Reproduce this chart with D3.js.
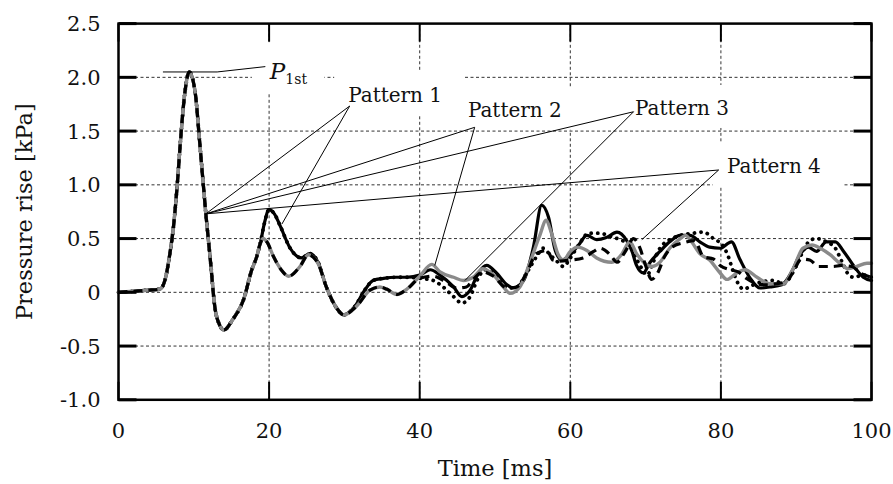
<!DOCTYPE html>
<html>
<head>
<meta charset="utf-8">
<script src="https://cdn.jsdelivr.net/npm/d3@7"></script>
<style>
  html, body { margin: 0; padding: 0; background: #fff; }
  svg { display: block; }
  text { font-family: "DejaVu Serif", serif; fill: #111; }
</style>
</head>
<body>
<svg id="chart" width="893" height="484"></svg>
<script>
// ---- Axis ticks ----
const timeTicks = [0, 20, 40, 60, 80, 100];
const pressureTicks = [-1.0, -0.5, 0, 0.5, 1.0, 1.5, 2.0, 2.5];
const pressureTickLabels = ["-1.0", "-0.5", "0", "0.5", "1.0", "1.5", "2.0", "2.5"];

// ---- Common first pressure pulse (all patterns), time [ms] / pressure [kPa] ----
const riseT = [0, 2, 4, 5.5, 6.2, 6.8, 7.3, 7.8, 8.2, 8.8, 9.4, 10.2, 10.8, 11.6, 12.2, 12.8, 13.4, 14.0, 15.2, 16.6, 17.7, 18.35];
const riseP = [0.00, 0.01, 0.02, 0.03, 0.12, 0.35, 0.61, 1.00, 1.38, 1.85, 2.05, 1.85, 1.38, 0.73, 0.30, -0.14, -0.30, -0.35, -0.25, -0.07, 0.21, 0.33];

// ---- Upper branch, 19-38 ms (patterns 1 and 2) ----
const upperT = [18.9, 19.4, 20.0, 20.7, 21.4, 22.8, 24.3, 25.4, 26.5, 27.6, 29.0, 29.9, 31.4, 32.7, 33.8, 35.2, 36.8, 38.3];
const upperP = [0.48, 0.65, 0.77, 0.73, 0.63, 0.41, 0.32, 0.36, 0.28, 0.05, -0.15, -0.21, -0.13, 0.02, 0.11, 0.13, 0.14, 0.14];

// ---- Lower branch, 19-38 ms (patterns 3 and 4) ----
const lowerT = [18.8, 19.2, 19.7, 20.6, 21.6, 22.6, 24.1, 25.2, 26.5, 27.6, 29.0, 29.9, 31.6, 33.4, 34.7, 35.6, 37.0, 38.3];
const lowerP = [0.45, 0.50, 0.47, 0.33, 0.21, 0.15, 0.24, 0.35, 0.27, 0.05, -0.15, -0.21, -0.13, 0.02, 0.05, 0.03, -0.02, 0.03];

// ---- Later oscillations, 40-100 ms ----
const solidT = [40.0, 41.4, 42.7, 44.5, 45.6, 46.7, 47.8, 48.9, 50.2, 51.6, 52.4, 53.8, 55.1, 56.2, 57.1, 58.0, 58.9, 59.7, 61.1, 62.2, 63.5, 64.8, 66.2, 67.5, 68.2, 68.8, 69.7, 70.6, 71.9, 73.2, 74.6, 75.9, 77.2, 78.5, 79.9, 81.4, 82.5, 83.9, 85.2, 86.5, 88.1, 89.4, 90.5, 91.6, 92.7, 94.0, 95.2, 96.3, 97.6, 98.9, 100];
const solidP = [0.16, 0.21, 0.16, 0.05, -0.04, 0.02, 0.18, 0.25, 0.18, 0.07, 0.04, 0.11, 0.42, 0.81, 0.70, 0.39, 0.30, 0.33, 0.44, 0.53, 0.49, 0.51, 0.56, 0.48, 0.38, 0.25, 0.18, 0.28, 0.38, 0.47, 0.53, 0.53, 0.47, 0.42, 0.41, 0.47, 0.31, 0.13, 0.04, 0.05, 0.07, 0.19, 0.35, 0.42, 0.38, 0.47, 0.47, 0.38, 0.25, 0.14, 0.11];

const dottedT = [40.0, 41.8, 43.1, 44.5, 45.6, 46.7, 47.6, 48.7, 50.2, 51.8, 52.9, 54.2, 55.5, 56.4, 57.3, 58.2, 59.1, 60.0, 61.3, 62.4, 63.9, 65.3, 66.6, 67.9, 68.8, 69.5, 70.2, 71.0, 71.9, 73.2, 74.6, 76.3, 77.7, 79.0, 80.3, 81.0, 81.6, 82.3, 83.0, 84.3, 85.6, 87.0, 88.3, 89.6, 90.9, 91.8, 92.7, 94.0, 95.2, 96.1, 97.0, 97.6, 98.9, 100];
const dottedP = [0.13, 0.11, 0.05, -0.04, -0.10, -0.04, 0.11, 0.21, 0.15, 0.04, 0.05, 0.18, 0.33, 0.41, 0.35, 0.29, 0.24, 0.32, 0.46, 0.55, 0.55, 0.52, 0.49, 0.44, 0.31, 0.22, 0.16, 0.28, 0.41, 0.49, 0.53, 0.55, 0.56, 0.50, 0.43, 0.33, 0.20, 0.08, 0.03, 0.07, 0.10, 0.11, 0.08, 0.19, 0.38, 0.48, 0.50, 0.47, 0.41, 0.28, 0.16, 0.14, 0.16, 0.14];

const grayT = [40.0, 41.6, 42.7, 44.5, 45.8, 47.1, 48.4, 49.8, 51.1, 52.0, 53.3, 54.6, 55.9, 56.8, 57.5, 58.4, 59.1, 60.0, 60.9, 62.2, 63.5, 65.5, 66.8, 67.9, 68.8, 69.9, 70.8, 71.9, 73.2, 74.6, 75.3, 76.1, 77.2, 78.5, 79.9, 80.8, 82.1, 83.2, 84.8, 86.5, 88.3, 89.6, 90.9, 92.1, 93.2, 94.5, 95.8, 96.9, 98.0, 99.4, 100];
const grayP = [0.15, 0.26, 0.19, 0.14, 0.11, 0.14, 0.22, 0.16, 0.05, -0.01, 0.05, 0.27, 0.52, 0.67, 0.55, 0.35, 0.30, 0.38, 0.42, 0.39, 0.32, 0.28, 0.35, 0.47, 0.36, 0.27, 0.24, 0.28, 0.41, 0.50, 0.53, 0.47, 0.36, 0.30, 0.18, 0.12, 0.18, 0.21, 0.14, 0.08, 0.08, 0.22, 0.41, 0.44, 0.41, 0.35, 0.27, 0.22, 0.24, 0.27, 0.27];

const dashedT = [40.0, 41.8, 43.6, 44.9, 46.2, 47.1, 48.4, 49.8, 51.6, 52.9, 54.2, 55.5, 56.9, 57.7, 58.6, 60.0, 61.7, 63.1, 63.9, 65.3, 66.2, 67.3, 68.4, 69.2, 70.0, 70.8, 71.6, 72.5, 73.5, 75.0, 76.5, 77.7, 79.0, 79.9, 81.2, 82.3, 83.4, 84.8, 86.1, 87.4, 88.7, 89.6, 90.7, 91.8, 93.0, 94.9, 96.0, 97.4, 98.5, 100];
const dashedP = [0.13, 0.15, 0.09, 0.04, 0.05, 0.12, 0.19, 0.15, 0.04, 0.05, 0.18, 0.36, 0.39, 0.30, 0.29, 0.30, 0.32, 0.38, 0.41, 0.35, 0.28, 0.38, 0.50, 0.42, 0.25, 0.12, 0.18, 0.33, 0.42, 0.46, 0.48, 0.33, 0.31, 0.25, 0.21, 0.19, 0.13, 0.08, 0.07, 0.08, 0.10, 0.19, 0.31, 0.30, 0.24, 0.24, 0.25, 0.24, 0.18, 0.14];

// ---- Annotations (data coordinates) ----
const patternNames = ["Pattern 1", "Pattern 2", "Pattern 3", "Pattern 4"];
const patternTextAt = [[30.5, 1.773], [46.4, 1.633], [68.6, 1.65], [80.8, 1.11]];
const patternApex = [[30.7, 1.733], [47.3, 1.535], [68.4, 1.68], [79.7, 1.138]];
const patternTarget = [[21.7, 0.635], [42.0, 0.25], [46.0, 0.11], [69.5, 0.49]];
const commonPoint = [11.6, 0.73];
const peakValue = 2.05;
const peakMarkSpan = [5.9, 13.1];
const peakLabelLead = [19.5, 2.10];
const peakLabelAt = [20.1, 1.98];

// ---- Scales ----
const svg = d3.select("#chart");
const x = d3.scaleLinear().domain([0, 100]).range([118.5, 871.5]);
const y = d3.scaleLinear().domain([-1, 2.5]).range([399.8, 23.6]);
const [x0, x1] = x.range();
const [y0, y1] = y.range();

// ---- Grid ----
const grid = svg.append("g").attr("stroke", "#333").attr("stroke-width", 1)
  .attr("stroke-dasharray", "3,2.5").attr("fill", "none");
grid.selectAll("line.h").data(pressureTicks.filter(v => v > -1 && v < 2.5)).join("line")
  .attr("x1", x0).attr("x2", x1).attr("y1", d => y(d)).attr("y2", d => y(d));
grid.selectAll("line.v").data(timeTicks.filter(t => t > 0 && t < 100)).join("line")
  .attr("y1", y0).attr("y2", y1).attr("x1", d => x(d)).attr("x2", d => x(d));

// ---- Series ----
const zip = (t, p) => t.map((v, i) => [v, p[i]]);
const rise = zip(riseT, riseP);
const upper = zip(upperT, upperP);
const lower = zip(lowerT, lowerP);
const series = [
  { pts: rise.concat(upper, zip(solidT, solidP)), stroke: "#000", width: 3.2, dash: null, cap: "round" },
  { pts: rise.concat(upper, zip(dottedT, dottedP)), stroke: "#000", width: 3.8, dash: "0.1,6.5", cap: "round" },
  { pts: rise.concat(lower, zip(grayT, grayP)), stroke: "#8a8a8a", width: 3.4, dash: null, cap: "round" },
  { pts: rise.concat(lower, zip(dashedT, dashedP)), stroke: "#000", width: 3.2, dash: "9,6", cap: "butt" }
];
const line = d3.line().x(d => x(d[0])).y(d => y(d[1])).curve(d3.curveMonotoneX);
svg.append("g").selectAll("path").data(series).join("path")
  .attr("d", d => line(d.pts))
  .attr("fill", "none")
  .attr("stroke", d => d.stroke)
  .attr("stroke-width", d => d.width)
  .attr("stroke-dasharray", d => d.dash)
  .attr("stroke-linecap", d => d.cap)
  .attr("stroke-linejoin", "round");

// ---- Frame and ticks ----
const frame = svg.append("g").attr("stroke", "#000");
frame.append("rect").attr("x", x0).attr("y", y1).attr("width", x1 - x0).attr("height", y0 - y1)
  .attr("fill", "none").attr("stroke-width", 2.5);
const tickLen = 18;
frame.selectAll("line.yl").data(pressureTicks).join("line")
  .attr("x1", x0).attr("x2", x0 + tickLen).attr("y1", d => y(d)).attr("y2", d => y(d)).attr("stroke-width", 3);
frame.selectAll("line.yr").data(pressureTicks).join("line")
  .attr("x1", x1 - tickLen).attr("x2", x1).attr("y1", d => y(d)).attr("y2", d => y(d)).attr("stroke-width", 3);
frame.selectAll("line.xb").data(timeTicks).join("line")
  .attr("x1", d => x(d)).attr("x2", d => x(d)).attr("y1", y0).attr("y2", y0 - tickLen).attr("stroke-width", 2);
frame.selectAll("line.xt").data(timeTicks).join("line")
  .attr("x1", d => x(d)).attr("x2", d => x(d)).attr("y1", y1).attr("y2", y1 + tickLen).attr("stroke-width", 2);

// ---- Tick labels and axis titles ----
svg.append("g").selectAll("text").data(pressureTicks).join("text")
  .attr("x", x0 - 18).attr("y", d => y(d)).attr("dy", "0.36em")
  .attr("text-anchor", "end").attr("font-size", 21)
  .text((d, i) => pressureTickLabels[i]);
svg.append("g").selectAll("text").data(timeTicks).join("text")
  .attr("x", d => x(d)).attr("y", 438).attr("text-anchor", "middle").attr("font-size", 21)
  .text(d => d);
svg.append("text").attr("x", (x0 + x1) / 2).attr("y", 476).attr("text-anchor", "middle")
  .attr("font-size", 22.5).text("Time [ms]");
svg.append("text").attr("transform", `translate(32,${(y0 + y1) / 2}) rotate(-90)`)
  .attr("text-anchor", "middle").attr("font-size", 22.5).text("Pressure rise [kPa]");

// ---- Annotation labels with white backing ----
const ann = svg.append("g");
const boxes = ann.append("g");
const leaders = ann.append("g").attr("stroke", "#000").attr("stroke-width", 1).attr("fill", "none");
const labels = ann.append("g");

// P_1st label
const pLabel = labels.append("text").attr("x", x(peakLabelAt[0])).attr("y", y(peakLabelAt[1])).attr("font-size", 23);
pLabel.append("tspan").attr("font-style", "italic").text("P");
pLabel.append("tspan").attr("font-size", 14).attr("dy", 5).text("1st");
const pb = pLabel.node().getBBox();
boxes.append("rect").attr("x", pb.x - 17).attr("y", y(peakLabelAt[1]) - 37)
  .attr("width", pb.width + 34).attr("height", 50).attr("fill", "#fff");
leaders.append("polyline").attr("points", [
  [x(peakMarkSpan[0]), y(peakValue)], [x(peakMarkSpan[1]), y(peakValue)],
  [x(peakLabelLead[0]), y(peakLabelLead[1])]
].map(p => p.join(",")).join(" "));

// Pattern labels
patternNames.forEach((name, i) => {
  const tx = x(patternTextAt[i][0]), ty = y(patternTextAt[i][1]);
  const t = labels.append("text").attr("x", tx).attr("y", ty).attr("font-size", 20).text(name);
  const b = t.node().getBBox();
  boxes.append("rect").attr("x", b.x - 14).attr("y", ty - 30)
    .attr("width", b.width + 36).attr("height", 43).attr("fill", "#fff");
  const a = [x(patternApex[i][0]), y(patternApex[i][1])];
  leaders.append("polyline").attr("points", [
    [x(commonPoint[0]), y(commonPoint[1])], a,
    [x(patternTarget[i][0]), y(patternTarget[i][1])]
  ].map(p => p.join(",")).join(" "));
});
</script>
</body>
</html>
